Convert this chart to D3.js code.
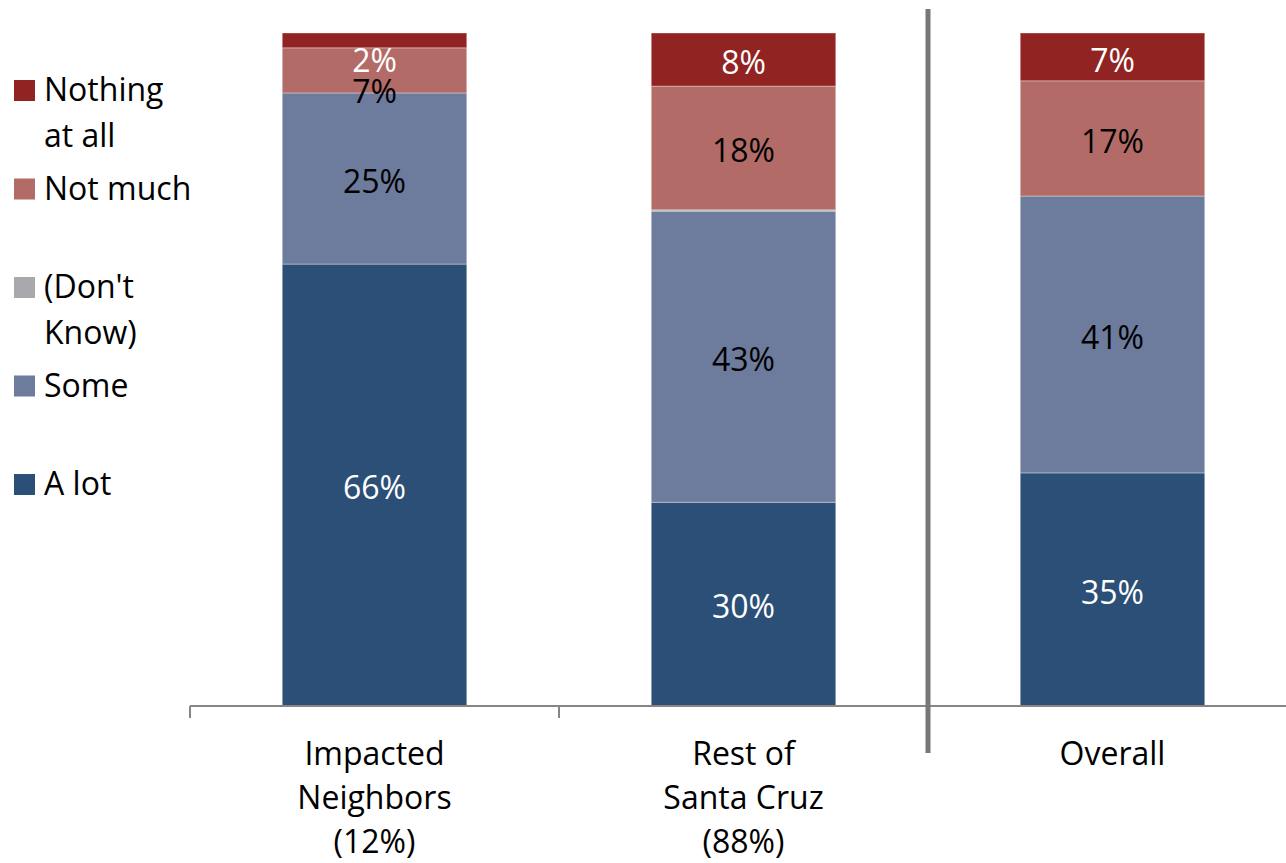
<!DOCTYPE html>
<html>
<head>
<meta charset="utf-8">
<script src="https://cdn.jsdelivr.net/npm/d3@7"></script>
<style>
  body { margin: 0; background: #fff; }
  svg { display: block; font-family: 'Open Sans', sans-serif; }
</style>
</head>
<body>
<svg></svg>
<script>
var WIDTH = 1286;
var HEIGHT = 863;

// data (percent of each group)
var categories = ['Impacted Neighbors (12%)', 'Rest of Santa Cruz (88%)', 'Overall'];
var seriesNames = ['A lot', 'Some', "(Don't Know)", 'Not much', 'Nothing at all'];
var aLot = [65.6, 30.3, 34.6];
var some = [25.4, 43.3, 41.1];
var dontKnow = [0, 0.2, 0];
var notMuch = [6.7, 18.4, 17.1];
var nothingAtAll = [2.2, 7.9, 7.1];

var seriesValues = [aLot, some, dontKnow, notMuch, nothingAtAll];
var colors = ['#2b4f77', '#6d7b9d', '#a9a9ad', '#b36b67', '#912422'];
var labelColors = ['#fff', '#000', '#000', '#000', '#fff'];

var rows = categories.map(function(cat, i) {
  var row = { cat: cat };
  seriesNames.forEach(function(name, j) {
    row[name] = seriesValues[j][i];
  });
  return row;
});

var svg = d3.select('svg')
  .attr('width', WIDTH)
  .attr('height', HEIGHT);

var xScale = d3.scaleBand()
  .domain(categories)
  .range([190, 1297])
  .paddingInner(0.5)
  .paddingOuter(0.25);

var yScale = d3.scaleLinear()
  .domain([0, 1])
  .range([706, 33]);

var colorScale = d3.scaleOrdinal().domain(seriesNames).range(colors);

var stacked = d3.stack()
  .keys(seriesNames)
  .offset(d3.stackOffsetExpand)(rows);

// bars
svg.append('g')
  .selectAll('g')
  .data(stacked)
  .enter()
  .append('g')
  .attr('fill', function(d) { return colorScale(d.key); })
  .selectAll('rect')
  .data(function(d) { return d; })
  .enter()
  .append('rect')
  .attr('x', function(d) { return xScale(d.data.cat); })
  .attr('width', xScale.bandwidth())
  .attr('y', function(d) { return yScale(d[1]); })
  .attr('height', function(d) { return yScale(d[0]) - yScale(d[1]); })
  .attr('stroke', 'rgba(255,255,255,0.35)')
  .attr('stroke-width', 1);

// data labels, nudged down from the top so small ones don't collide
categories.forEach(function(cat, i) {
  var prev = null;
  for (var j = stacked.length - 1; j >= 0; j--) {
    var seg = stacked[j][i];
    var v = seriesValues[j][i];
    if (v < 1) continue;
    var c = (yScale(seg[0]) + yScale(seg[1])) / 2 + 3;
    if (prev === null) c = Math.max(c, yScale(1) + 27.5);
    else c = Math.max(c, prev + 31);
    prev = c;
    svg.append('text')
      .attr('x', xScale(cat) + xScale.bandwidth() / 2)
      .attr('y', c)
      .attr('dy', '0.35em')
      .attr('text-anchor', 'middle')
      .attr('font-size', 32)
      .attr('fill', labelColors[j])
      .text(Math.round(v) + '%');
  }
});

// x axis
var gap = (xScale.step() - xScale.bandwidth()) / 2;
var axis = svg.append('g')
  .attr('transform', 'translate(0,706)')
  .call(d3.axisBottom(xScale).tickSize(0).tickSizeOuter(0).tickFormat(''));
axis.select('.domain')
  .attr('d', 'M' + xScale.range()[0] + ',0H' + WIDTH)
  .attr('stroke', '#868686')
  .attr('stroke-width', 2);

categories.forEach(function(cat, i) {
  var bx = xScale(cat) - gap;
  if (i < 2) {
    svg.append('line')
      .attr('x1', bx).attr('x2', bx)
      .attr('y1', 706).attr('y2', 718)
      .attr('stroke', '#868686')
      .attr('stroke-width', 2);
  }
});

// separator before "Overall"
var sepX = xScale('Overall') - gap;
svg.append('line')
  .attr('x1', sepX).attr('x2', sepX)
  .attr('y1', 9).attr('y2', 753)
  .attr('stroke', '#777')
  .attr('stroke-width', 5);

function wrap(textSel, width, lineHeight) {
  textSel.each(function() {
    var text = d3.select(this);
    var words = text.text().split(/\s+/);
    var x = text.attr('x');
    text.text(null);
    var line = [];
    var tspan = text.append('tspan').attr('x', x).attr('dy', 0);
    words.forEach(function(w) {
      line.push(w);
      tspan.text(line.join(' '));
      if (tspan.node().getComputedTextLength() > width && line.length > 1) {
        line.pop();
        tspan.text(line.join(' '));
        line = [w];
        tspan = text.append('tspan').attr('x', x).attr('dy', lineHeight).text(w);
      }
    });
  });
}

svg.append('g')
  .selectAll('text')
  .data(categories)
  .enter()
  .append('text')
  .attr('x', function(d) { return xScale(d) + xScale.bandwidth() / 2; })
  .attr('y', 765)
  .attr('text-anchor', 'middle')
  .attr('font-size', 32)
  .attr('fill', '#000')
  .text(function(d) { return d; })
  .call(wrap, 175, 44);

// legend (top item first)
var legendOrder = seriesNames.slice().reverse();
var legendY = d3.scalePoint().domain(legendOrder).range([101, 495]);

var legend = svg.append('g')
  .selectAll('g')
  .data(legendOrder)
  .enter()
  .append('g');

legend.append('rect')
  .attr('x', 14)
  .attr('y', function(d) { return legendY(d) - 21; })
  .attr('width', 21)
  .attr('height', 21)
  .attr('fill', function(d) { return colorScale(d); });

legend.append('text')
  .attr('x', 44)
  .attr('y', function(d) { return legendY(d); })
  .attr('font-size', 32)
  .attr('fill', '#000')
  .text(function(d) { return d; })
  .call(wrap, 150, 46);
</script>
</body>
</html>
